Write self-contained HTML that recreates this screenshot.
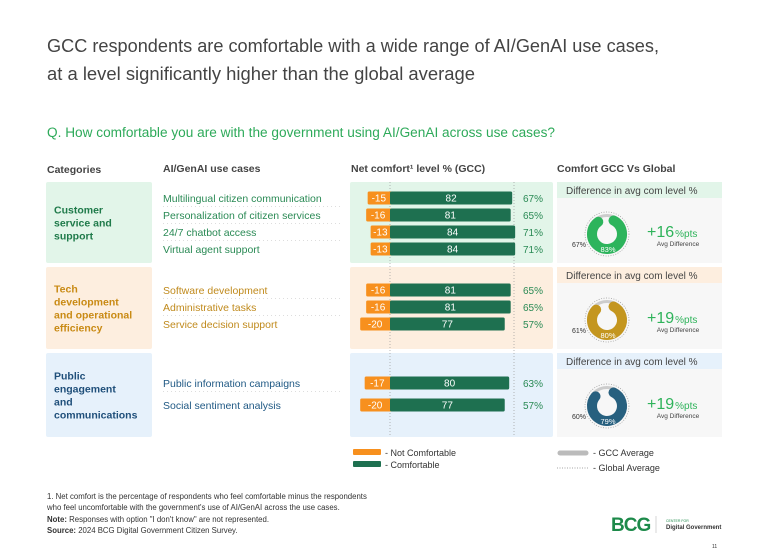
<!DOCTYPE html>
<html><head><meta charset="utf-8"><style>
html,body{margin:0;padding:0;background:#fff;}
svg{display:block;font-family:"Liberation Sans",sans-serif;}
</style></head><body>
<svg id="c" width="768" height="557" viewBox="0 0 768 557" xmlns="http://www.w3.org/2000/svg">
<text x="47" y="52" font-size="18" fill="#444" textLength="612" lengthAdjust="spacingAndGlyphs">GCC respondents are comfortable with a wide range of AI/GenAI use cases,</text>
<text x="47" y="80" font-size="18" fill="#444" textLength="428" lengthAdjust="spacingAndGlyphs">at a level significantly higher than the global average</text>
<text x="47" y="137" font-size="13.5" fill="#2eaa5a" textLength="508" lengthAdjust="spacingAndGlyphs">Q. How comfortable you are with the government using AI/GenAI across use cases?</text>
<g font-size="10.5" font-weight="bold" fill="#444">
<text x="47" y="173">Categories</text>
<text x="163" y="172">AI/GenAI use cases</text>
<text x="351" y="172">Net comfort¹ level % (GCC)</text>
<text x="557" y="172">Comfort GCC Vs Global</text>
</g>
<g id="groups"></g>
<g id="bars"></g>
<g id="donuts"></g>
<rect x="353" y="449" width="28" height="6" rx="1" fill="#f7901e"/>
<text x="385" y="456" font-size="9" fill="#333">- Not Comfortable</text>
<rect x="353" y="461" width="28" height="6" rx="1" fill="#1e7050"/>
<text x="385" y="468" font-size="9" fill="#333">- Comfortable</text>
<line x1="560" y1="453" x2="586" y2="453" stroke="#bbb" stroke-width="5" stroke-linecap="round"/>
<text x="593" y="456" font-size="9" fill="#333">- GCC Average</text>
<line x1="557" y1="468" x2="588" y2="468" stroke="#888" stroke-width="0.8" stroke-dasharray="1,1.5"/>
<text x="593" y="471" font-size="9" fill="#333">- Global Average</text>
<g font-size="7.8" fill="#333">
<text x="47" y="499">1. Net comfort is the percentage of respondents who feel comfortable minus the respondents</text>
<text x="47" y="510">who feel uncomfortable with the government's use of AI/GenAI across the use cases.</text>
<text x="47" y="522"><tspan font-weight="bold">Note:</tspan> Responses with option "I don't know" are not represented.</text>
<text x="47" y="533"><tspan font-weight="bold">Source:</tspan> 2024 BCG Digital Government Citizen Survey.</text>
</g>
<text x="611" y="531" font-size="19" font-weight="bold" fill="#1d8a4a" letter-spacing="-1">BCG</text>
<line x1="656" y1="516" x2="656" y2="533" stroke="#ccc" stroke-width="0.8"/>
<text x="666" y="522" font-size="3.5" fill="#1d8a4a">CENTER FOR</text>
<text x="666" y="529" font-size="6" font-weight="bold" fill="#333">Digital Government</text>
<text x="712" y="548" font-size="5" fill="#333">11</text>
</svg>
<script>
const groupNames=[["Customer","service and","support"],["Tech","development","and operational","efficiency"],["Public","engagement","and","communications"]];
const useCases=["Multilingual citizen communication","Personalization of citizen services","24/7 chatbot access","Virtual agent support","Software development","Administrative tasks","Service decision support","Public information campaigns","Social sentiment analysis"];
const caseGroup=[0,0,0,0,1,1,1,2,2];
const notComfortable=[-15,-16,-13,-13,-16,-16,-20,-17,-20];
const comfortable=[82,81,84,84,81,81,77,80,77];
const netComfort=[67,65,71,71,65,65,57,63,57];
const gccAvg=[83,80,79];
const globalAvg=[67,61,60];
const avgDiff=[16,19,19];

const NS="http://www.w3.org/2000/svg";
function mk(p,t,a){const e=document.createElementNS(NS,t);for(const k in a)e.setAttribute(k,a[k]);p.appendChild(e);return e;}
const gTop=[182,267,353],gBot=[263,349,437];
const catBg=["#e2f5e9","#fdeedf","#e6f1fb"],catFg=["#1f7a4a","#c98a14","#1f4f7a"];
const caseFg=["#2a8a55","#c08a1c","#215a85"];
const hdrBg=["#e2f5e9","#fdeedf","#e6f1fb"];
const donutCol=["#2db45c","#c4961f","#27607f"];
const rowY=[198,215,232,249,290,307,324,383,405];
const x0=390, sc=1.49;
function xs(v){return x0+v*sc;}
const G=document.getElementById('groups'),B=document.getElementById('bars'),D=document.getElementById('donuts');
for(let g=0;g<3;g++){
  const r=mk(G,'rect',{x:46,y:gTop[g],width:106,height:gBot[g]-gTop[g],rx:2,fill:catBg[g]});
  
  
  const lines=groupNames[g];
  const cy=(gTop[g]+gBot[g])/2-(lines.length-1)*6.5+4;
  lines.forEach((l,i)=>{const t=mk(G,'text',{x:54,y:cy+i*13,'font-size':10.5,'font-weight':'bold',fill:catFg[g]});t.textContent=l;
    
    });
  const p=mk(G,'rect',{x:350,y:gTop[g],width:203,height:gBot[g]-gTop[g],rx:2,fill:catBg[g]});
  
  
  const rp=mk(G,'rect',{x:557,y:gTop[g],width:165,height:gBot[g]-gTop[g],fill:'#f7f7f7'});
  
  
  mk(G,'rect',{x:557,y:gTop[g],width:165,height:16,fill:hdrBg[g]});
  const ht=mk(G,'text',{x:566,y:gTop[g]+12,'font-size':10,fill:'#444'});ht.textContent='Difference in avg com level %';
  
  
}
[x0,514].forEach(x=>mk(G,'line',{x1:x,y1:182,x2:x,y2:437,stroke:'#999','stroke-width':0.7,'stroke-dasharray':'1,2'}));
for(let i=0;i<useCases.length;i++){
  const g=caseGroup[i],y=rowY[i];
  const t=mk(B,'text',{x:163,y:y+4,'font-size':10.5,fill:caseFg[g]});t.textContent=useCases[i];
  
  
  if(i+1<useCases.length&&caseGroup[i+1]===g) mk(B,'line',{x1:163,y1:y+8.5,x2:340,y2:y+8.5,stroke:'#bbb','stroke-width':0.6,'stroke-dasharray':'1,3'});
  const h=13;
  const nb=mk(B,'rect',{x:xs(notComfortable[i]),y:y-h/2,width:x0-xs(notComfortable[i])+2,height:h,rx:1.5,fill:'#f7901e'});
  
  
  const cb=mk(B,'rect',{x:x0,y:y-h/2,width:xs(comfortable[i])-x0,height:h,rx:1.5,fill:'#1e7050'});
  
  
  const nt=mk(B,'text',{x:(xs(notComfortable[i])+x0)/2,y:y+3.5,'font-size':10,fill:'#fff','text-anchor':'middle'});nt.textContent=notComfortable[i];
  
  
  const ct=mk(B,'text',{x:(xs(comfortable[i])+x0)/2,y:y+3.5,'font-size':10,fill:'#fff','text-anchor':'middle'});ct.textContent=comfortable[i];
  
  
  const pt=mk(B,'text',{x:523,y:y+4,'font-size':10,fill:'#2a8a55'});pt.textContent=netComfort[i]+'%';
  
  
}
const dc=[234,320,406];
for(let g=0;g<3;g++){
  const cx=607,cy=dc[g],r=15;
  mk(D,'circle',{cx,cy,r:22,fill:'none',stroke:'#999','stroke-width':0.7,'stroke-dasharray':'1,1.5'});
  mk(D,'circle',{cx,cy,r:18.5,fill:'none',stroke:'#ccc','stroke-width':3});
  const f=gccAvg[g]/100,a0=-Math.PI/2+0.45,a1=a0+f*2*Math.PI;
  const p=mk(D,'path',{d:`M${cx+r*Math.cos(a0)} ${cy+r*Math.sin(a0)} A${r} ${r} 0 ${f>0.5?1:0} 1 ${cx+r*Math.cos(a1)} ${cy+r*Math.sin(a1)}`,fill:'none',stroke:donutCol[g],'stroke-width':10,'stroke-linecap':'round'});
  
  
  const gt=mk(D,'text',{x:cx+1,y:cy+18,'font-size':7.5,fill:'#fff','text-anchor':'middle'});gt.textContent=gccAvg[g]+'%';
  
  
  const lt=mk(D,'text',{x:cx-35,y:cy+13,'font-size':7,fill:'#333'});lt.textContent=globalAvg[g]+'%';
  
  
  const dt=mk(D,'text',{x:647,y:cy+3,'font-size':16,fill:'#2eb35a'});
  dt.textContent='+'+avgDiff[g];
  const sp=mk(dt,'tspan',{'font-size':10,dx:1});sp.textContent='%pts';
  
  
  const at=mk(D,'text',{x:678,y:cy+12,'font-size':6.5,fill:'#444','text-anchor':'middle'});at.textContent='Avg Difference';
  
  
}
</script>
</body></html>
